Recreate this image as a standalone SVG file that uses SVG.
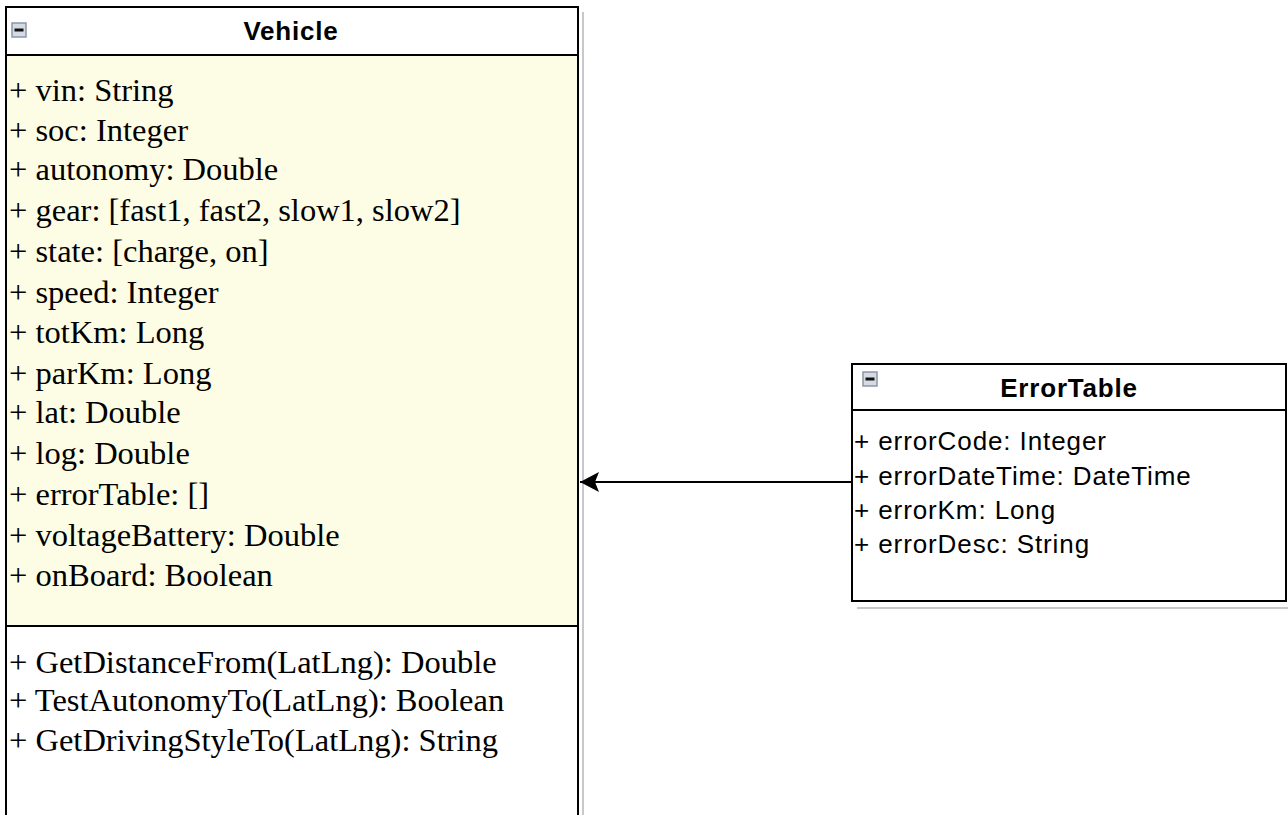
<svg xmlns="http://www.w3.org/2000/svg" width="1288" height="815" viewBox="0 0 1288 815">
<style>
.box{fill:#ffffff;stroke:#000;stroke-width:2}
.attr{fill:#fdfde6;stroke:#000;stroke-width:2}
.shadow{fill:none;stroke:#c8c8c8;stroke-width:2}
.title{font-family:"Liberation Sans",Arial,sans-serif;font-weight:bold;font-size:26px;letter-spacing:0.8px;text-anchor:middle;fill:#000}
.serif{font-family:"Liberation Serif","Times New Roman",serif;font-size:32.5px;fill:#000}
.sans{font-family:"Liberation Sans",Arial,sans-serif;font-size:26px;letter-spacing:0.9px;fill:#000}
.icon{fill:#d6dbe3;stroke:#8a96a8;stroke-width:1.5}
.minus{stroke:#111;stroke-width:3}
</style>
<defs>
<marker id="arrow" markerWidth="22" markerHeight="22" refX="20" refY="11" orient="auto" markerUnits="userSpaceOnUse">
<path d="M20,11 L1,1 L5,11 L1,21 Z" fill="#000"/>
</marker>
</defs>
<rect width="1288" height="815" fill="#fff"/>
<g id="Vehicle">
<path class="shadow" d="M583,12 V815"/>
<rect class="box" x="6" y="7" width="572" height="820"/>
<rect class="attr" x="6" y="55" width="572" height="571"/>
<rect class="icon" x="12" y="23" width="14" height="14"/>
<path class="minus" d="M14.5,30 H23.5"/>
<text class="title" x="291" y="40">Vehicle</text>
<g class="serif">
<text x="9" y="101">+ vin: String</text>
<text x="9" y="141">+ soc: Integer</text>
<text x="9" y="180">+ autonomy: Double</text>
<text x="9" y="221">+ gear: [fast1, fast2, slow1, slow2]</text>
<text x="9" y="262">+ state: [charge, on]</text>
<text x="9" y="303">+ speed: Integer</text>
<text x="9" y="343">+ totKm: Long</text>
<text x="9" y="384">+ parKm: Long</text>
<text x="9" y="423">+ lat: Double</text>
<text x="9" y="464">+ log: Double</text>
<text x="9" y="505">+ errorTable: []</text>
<text x="9" y="546">+ voltageBattery: Double</text>
<text x="9" y="586">+ onBoard: Boolean</text>
<text x="9" y="673">+ GetDistanceFrom(LatLng): Double</text>
<text x="9" y="711">+ TestAutonomyTo(LatLng): Boolean</text>
<text x="9" y="751">+ GetDrivingStyleTo(LatLng): String</text>
</g>
</g>
<g id="ErrorTable">
<path class="shadow" d="M857,608 H1288"/>
<rect class="box" x="852" y="364" width="434" height="237"/>
<path d="M852,410 H1286" stroke="#000" stroke-width="2"/>
<rect class="icon" x="863" y="372" width="14" height="14"/>
<path class="minus" d="M865.5,379 H874.5"/>
<text class="title" x="1069" y="397">ErrorTable</text>
<g class="sans">
<text x="854" y="450">+ errorCode: Integer</text>
<text x="854" y="485">+ errorDateTime: DateTime</text>
<text x="854" y="519">+ errorKm: Long</text>
<text x="854" y="553">+ errorDesc: String</text>
</g>
</g>
<g id="connectors">
<path d="M852,482 H580" stroke="#000" stroke-width="2" fill="none" marker-end="url(#arrow)"/>
</g>
</svg>
